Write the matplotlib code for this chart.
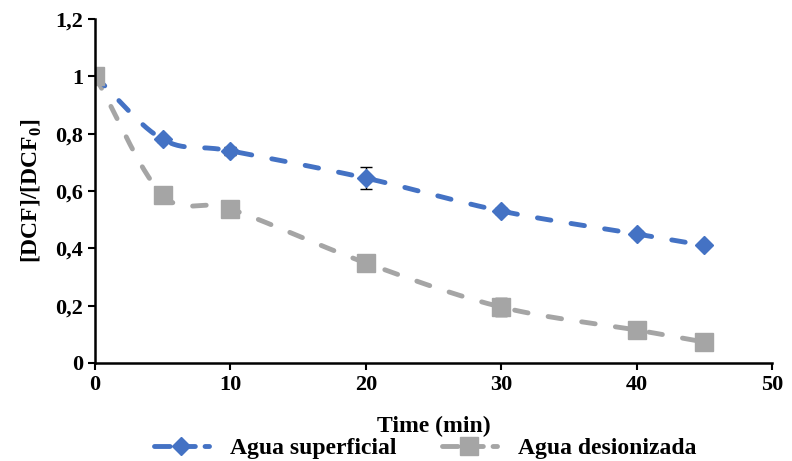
import numpy as np
import matplotlib
matplotlib.use("Agg")
import matplotlib.pyplot as plt

plt.rcParams['font.family'] = 'Liberation Serif'
plt.rcParams['font.weight'] = 'bold'
plt.rcParams['mathtext.fontset'] = 'custom'
plt.rcParams['mathtext.rm'] = 'Liberation Serif:bold'
plt.rcParams['mathtext.bf'] = 'Liberation Serif:bold'

tiempo = [0, 5, 10, 20, 30, 40, 45]
superficial = [1.0, 0.78, 0.74, 0.645, 0.53, 0.45, 0.41]
superficial_err = [0.0, 0.01, 0.015, 0.038, 0.01, 0.01, 0.0]
desionizada = [1.0, 0.586, 0.537, 0.349, 0.195, 0.115, 0.073]
desionizada_err = [0.0, 0.0, 0.02, 0.015, 0.03, 0.0, 0.0]


def suave(x, y, n=30):
    # curva tipo Catmull-Rom para imitar la linea suavizada de Excel
    x = np.asarray(x, float)
    y = np.asarray(y, float)
    px = np.concatenate([[2 * x[0] - x[1]], x, [2 * x[-1] - x[-2]]])
    py = np.concatenate([[2 * y[0] - y[1]], y, [2 * y[-1] - y[-2]]])
    xs, ys = [], []
    t = np.linspace(0, 1, n)
    for i in range(1, len(px) - 2):
        for p, out in ((px, xs), (py, ys)):
            p0, p1, p2, p3 = p[i - 1], p[i], p[i + 1], p[i + 2]
            out.extend(0.5 * (2 * p1 + (-p0 + p2) * t
                              + (2 * p0 - 5 * p1 + 4 * p2 - p3) * t**2
                              + (-p0 + 3 * p1 - 3 * p2 + p3) * t**3))
    return np.array(xs), np.array(ys)


fig = plt.figure(figsize=(7.92, 4.61), dpi=100)
ax = fig.add_axes([0.12, 0.2126, 0.855, 0.7462])

azul = '#4472C4'
gris = '#A5A5A5'
lw = 3.5
dash = (2.8, 4.2)

series = [
    (desionizada, desionizada_err, gris, 's', 13),
    (superficial, superficial_err, azul, 'D', 9.5),
]

# lineas suavizadas
for datos, err, color, marker, ms in series:
    xs, ys = suave(tiempo, datos)
    ax.plot(xs, ys, color=color, lw=lw, ls=(0, dash), dash_capstyle='round')

# barras de error y marcadores (el gris queda encima en t=0)
for datos, err, color, marker, ms in series[::-1]:
    ax.errorbar(tiempo, datos, yerr=err, fmt='none', ecolor='black',
                elinewidth=1, capsize=4, capthick=1)
    ax.plot(tiempo, datos, ls='none', marker=marker, ms=ms, color=color)

h_sup = plt.Line2D([], [], color=azul, lw=lw, ls=(0, (3.2, 2.0)), marker='D',
                   ms=9.5, dash_capstyle='round')
h_des = plt.Line2D([], [], color=gris, lw=lw, ls=(0, (3.2, 2.0)), marker='s',
                   ms=13, dash_capstyle='round')
fig.legend([h_sup, h_des], ['Agua superficial', 'Agua desionizada'],
           loc='lower center', bbox_to_anchor=(0.537, -0.042), ncol=2,
           frameon=False, fontsize=17, handlelength=2.3, handletextpad=0.9,
           columnspacing=1.95)

ax.set_xlim(0, 50)
ax.set_ylim(0, 1.2)
ax.set_xticks([0, 10, 20, 30, 40, 50])
yt = [0, 0.2, 0.4, 0.6, 0.8, 1.0, 1.2]
ax.set_yticks(yt)
ax.set_yticklabels(['0', '0,2', '0,4', '0,6', '0,8', '1', '1,2'])
ax.tick_params(labelsize=16, width=1.5, length=5, direction='out')
for s in ['top', 'right']:
    ax.spines[s].set_visible(False)
for s in ['left', 'bottom']:
    ax.spines[s].set_linewidth(1.8)
ax.set_xlabel('Time (min)', fontsize=17, fontweight='bold', labelpad=15)
ax.set_ylabel(r'[DCF]/[DCF$_{0}$]', fontsize=17, fontweight='bold',
              labelpad=8)

fig.savefig('out.png', dpi=100)
